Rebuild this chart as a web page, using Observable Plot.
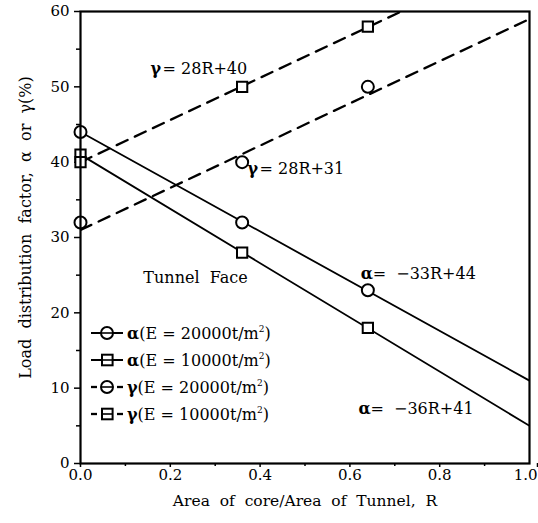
<!DOCTYPE html>
<html>
<head>
<meta charset="utf-8">
<script src="https://cdn.jsdelivr.net/npm/d3@7"></script>
<script src="https://cdn.jsdelivr.net/npm/@observablehq/plot@0.6"></script>
<style>
  html, body { margin: 0; padding: 0; background: white; }
  #wrap { position: relative; width: 538px; height: 523px; }
</style>
</head>
<body>
<div id="wrap"></div>
<script>
// ---- data ----
const R = [0, 0.36, 0.64];
const seriesGreek = ["α", "α", "γ", "γ"];
const seriesLabel = ["(E = 20000t/m", "(E = 10000t/m", "(E = 20000t/m", "(E = 10000t/m"];
const seriesSymbol = ["circle", "square", "circle", "square"];
const seriesDashed = [false, false, true, true];
const alpha20000 = [44, 32, 23];
const alpha10000 = [41, 28, 18];
const gamma20000 = [32, 40, 50];
const gamma10000 = [40, 50, 58];
const seriesValues = [alpha20000, alpha10000, gamma20000, gamma10000];
// fitted lines shown on the chart: value = slope * R + intercept
const fitSlope = [-33, -36, 28, 28];
const fitIntercept = [44, 41, 31, 40];
const fitRange = [0, 1];

const yTicks = [0, 10, 20, 30, 40, 50, 60];
const yMinorTicks = [5, 15, 25, 35, 45, 55];
const xTicks = [0, 0.2, 0.4, 0.6, 0.8, 1.0];
const xTickLabels = ["0.0", "0.2", "0.4", "0.6", "0.8", "1.0"];
const xMinorTicks = [0.1, 0.3, 0.5, 0.7, 0.9];

const annGreek = ["γ", "γ", "α", "α", ""];
const annText = ["= 28R+40", "= 28R+31", "=  −33R+44", "=  −36R+41", "Tunnel  Face"];
const annR = [0.156, 0.372, 0.624, 0.619, 0.140];
const annV = [52.4, 39.1, 25.2, 7.2, 24.6];

const yLabel = "Load  distribution  factor,  α  or  γ(%)";
const xLabel = "Area  of  core/Area  of  Tunnel,  R";

// ---- tables ----
const points = seriesValues.flatMap((vals, s) =>
  vals.map((v, i) => ({R: R[i], v, s, symbol: seriesSymbol[s]})));
const lines = fitSlope.flatMap((m, s) =>
  fitRange.map(r => ({R: r, v: m * r + fitIntercept[s], s, dashed: seriesDashed[s]})));
const anns = annText.map((t, i) => ({t, g: annGreek[i], R: annR[i], v: annV[i]}));

const font = "DejaVu Serif";
const xFmt = d => xTickLabels[xTicks.findIndex(t => Math.abs(t - d) < 1e-9)];
const lastX = xTicks[xTicks.length - 1];

const chart = Plot.plot({
  width: 538,
  height: 523,
  marginLeft: 80,
  marginRight: 9,
  marginTop: 11,
  marginBottom: 60,
  style: {fontFamily: font, background: "white", color: "black"},
  x: {domain: [0, 1]},
  y: {domain: [0, 60]},
  marks: [
    Plot.axisY({ticks: yTicks, tickSize: 6, tickPadding: 5, fontSize: 15, label: null, strokeWidth: 1.5}),
    Plot.axisY({ticks: yMinorTicks, tickSize: 4, text: null, label: null, strokeWidth: 1.5}),
    Plot.axisX({ticks: xTicks.filter(t => t !== lastX), tickSize: 4, tickPadding: 2, fontSize: 15, label: null, strokeWidth: 1.5, tickFormat: xFmt}),
    Plot.axisX({ticks: [lastX], tickSize: 4, tickPadding: 2, fontSize: 15, label: null, strokeWidth: 1.5, tickFormat: xFmt, textAnchor: "end", dx: 8}),
    Plot.axisX({ticks: xMinorTicks, tickSize: 3, text: null, label: null, strokeWidth: 1.5}),
    Plot.line(lines, {filter: d => !d.dashed, x: "R", y: "v", z: "s", stroke: "black", strokeWidth: 1.8, clip: true}),
    Plot.line(lines, {filter: d => d.dashed, x: "R", y: "v", z: "s", stroke: "black", strokeWidth: 2.3, strokeDasharray: "12,8", clip: true}),
    Plot.dot(points, {filter: d => d.symbol === "circle", x: "R", y: "v", symbol: "circle", r: 6, fill: "white", stroke: "black", strokeWidth: 2}),
    Plot.dot(points, {filter: d => d.symbol === "square", x: "R", y: "v", symbol: "square", r: 5.8, fill: "white", stroke: "black", strokeWidth: 2}),
    Plot.text(anns, {x: "R", y: "v", text: "g", textAnchor: "start", fontSize: 16, fontWeight: "bold"}),
    Plot.text(anns, {x: "R", y: "v", text: "t", textAnchor: "start", fontSize: 16, filter: d => d.g === ""}),
    Plot.text(anns, {x: "R", y: "v", text: "t", textAnchor: "start", fontSize: 16, dx: 12, filter: d => d.g !== ""}),
    Plot.text([yLabel], {frameAnchor: "left", textAnchor: "middle", text: d => d, rotate: -90, dx: -55, dy: -10, fontSize: 16}),
    Plot.text([xLabel], {frameAnchor: "bottom", textAnchor: "middle", text: d => d, dy: 42, fontSize: 15.5}),
    Plot.frame({stroke: "black", strokeWidth: 2.2})
  ]
});

document.getElementById("wrap").appendChild(chart);

// ---- legend (inside the plot area, lower left) ----
const svg = d3.select(chart);
const lg = svg.append("g").attr("font-family", font).attr("font-size", 16).attr("text-anchor", "start");
const rowY = [333, 360, 387, 414];
seriesGreek.forEach((g, i) => {
  const y = rowY[i];
  const row = lg.append("g");
  if (seriesDashed[i]) {
    row.append("line").attr("x1", 91).attr("x2", 97).attr("y1", y).attr("y2", y).attr("stroke", "black").attr("stroke-width", 2.3);
    row.append("line").attr("x1", 117).attr("x2", 123).attr("y1", y).attr("y2", y).attr("stroke", "black").attr("stroke-width", 2.3);
  } else {
    row.append("line").attr("x1", 91).attr("x2", 123).attr("y1", y).attr("y2", y).attr("stroke", "black").attr("stroke-width", 2);
  }
  if (seriesSymbol[i] === "circle") {
    row.append("circle").attr("cx", 107).attr("cy", y).attr("r", 6).attr("fill", "white").attr("stroke", "black").attr("stroke-width", 2);
  } else {
    row.append("rect").attr("x", 102).attr("y", y - 5.3).attr("width", 10.6).attr("height", 10.6).attr("fill", "white").attr("stroke", "black").attr("stroke-width", 2);
  }
  row.append("line").attr("x1", 101).attr("x2", 113).attr("y1", y).attr("y2", y).attr("stroke", "black").attr("stroke-width", 1.6);
  const t = row.append("text").attr("x", 127).attr("y", y + 5.5).attr("text-anchor", "start");
  t.append("tspan").attr("font-weight", "bold").text(g);
  t.append("tspan").text(seriesLabel[i]);
  t.append("tspan").attr("font-size", 9).attr("dy", -7).text("2");
  t.append("tspan").attr("dy", 7).text(")");
});
</script>
</body>
</html>
